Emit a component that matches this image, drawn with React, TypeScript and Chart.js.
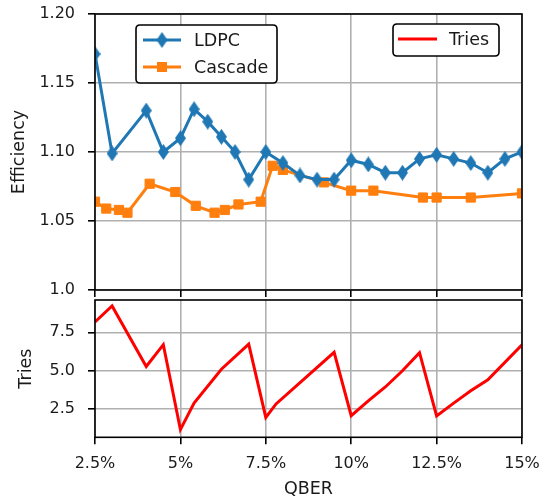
import React, { useEffect, useRef } from 'react';
import { Chart, registerables } from 'chart.js';

Chart.register(...registerables);

// ---- data ----
const qberLdpc = [2.5, 3, 4, 4.5, 5, 5.4, 5.8, 6.2, 6.6, 7, 7.5, 8, 8.5, 9, 9.5, 10, 10.5, 11, 11.5, 12, 12.5, 13, 13.5, 14, 14.5, 15];
const effLdpc = [1.171, 1.099, 1.130, 1.100, 1.110, 1.131, 1.122, 1.111, 1.100, 1.080, 1.100, 1.092, 1.083, 1.080, 1.080, 1.094, 1.091, 1.085, 1.085, 1.095, 1.098, 1.095, 1.092, 1.085, 1.095, 1.100];

const qberCascade = [2.5, 2.83, 3.2, 3.45, 4.1, 4.85, 5.45, 6.0, 6.3, 6.7, 7.35, 7.7, 8.0, 9.2, 10.0, 10.65, 12.1, 12.5, 13.5, 15];
const effCascade = [1.064, 1.059, 1.058, 1.056, 1.077, 1.071, 1.061, 1.056, 1.058, 1.062, 1.064, 1.090, 1.087, 1.078, 1.072, 1.072, 1.067, 1.067, 1.067, 1.070];

const qberTries = [2.5, 3, 4, 4.5, 5, 5.4, 6.2, 7, 7.5, 7.8, 9.5, 10, 10.5, 11, 11.5, 12, 12.5, 13, 13.5, 14, 15];
const triesCount = [8.17, 9.21, 5.28, 6.7, 1.18, 2.9, 5.1, 6.73, 1.97, 2.85, 6.2, 2.08, 3.05, 3.95, 5.0, 6.18, 2.07, 2.9, 3.7, 4.42, 6.69];

const qberTicks = [2.5, 5, 7.5, 10, 12.5, 15];
const qberTickLabels = ['2.5%', '5%', '7.5%', '10%', '12.5%', '15%'];
const effTicks = [1.0, 1.05, 1.1, 1.15, 1.2];
const effTickLabels = ['1.0', '1.05', '1.10', '1.15', '1.20'];
const triesTicks = [2.5, 5.0, 7.5];
const triesTickLabels = ['2.5', '5.0', '7.5'];

// ---- styling ----
const FONT = "'DejaVu Sans', sans-serif";
const TEXT = '#1a1a1a';
const GRID = '#b0b0b0';
const BLUE = '#1f77b4';
const ORANGE = '#ff7f0e';
const RED = '#ff0000';
const TICK_SIZE = 16;
const LABEL_SIZE = 17.5;

const LEFT_AXIS_W = 95;
const RIGHT_PAD = 24;

function thinDiamond(w: number, h: number, color: string): HTMLCanvasElement {
  const c = document.createElement('canvas');
  c.width = w;
  c.height = h;
  const g = c.getContext('2d')!;
  g.fillStyle = color;
  g.beginPath();
  g.moveTo(w / 2, 0);
  g.lineTo(w, h / 2);
  g.lineTo(w / 2, h);
  g.lineTo(0, h / 2);
  g.closePath();
  g.fill();
  return c;
}

const framePlugin = {
  id: 'frame',
  afterDatasetsDraw(chart: any) {
    const { ctx, chartArea: a } = chart;
    ctx.save();
    ctx.strokeStyle = '#000';
    ctx.lineWidth = 1.6;
    ctx.strokeRect(a.left, a.top, a.right - a.left, a.bottom - a.top);
    ctx.restore();
  },
};

function roundBox(ctx: CanvasRenderingContext2D, x: number, y: number, w: number, h: number, r: number) {
  ctx.beginPath();
  ctx.moveTo(x + r, y);
  ctx.lineTo(x + w - r, y);
  ctx.quadraticCurveTo(x + w, y, x + w, y + r);
  ctx.lineTo(x + w, y + h - r);
  ctx.quadraticCurveTo(x + w, y + h, x + w - r, y + h);
  ctx.lineTo(x + r, y + h);
  ctx.quadraticCurveTo(x, y + h, x, y + h - r);
  ctx.lineTo(x, y + r);
  ctx.quadraticCurveTo(x, y, x + r, y);
  ctx.closePath();
  ctx.fillStyle = '#fff';
  ctx.fill();
  ctx.strokeStyle = '#000';
  ctx.lineWidth = 1.6;
  ctx.stroke();
}

function makeLegendPlugin(diamond: HTMLCanvasElement) {
  return {
    id: 'boxedLegends',
    afterDraw(chart: any) {
      const ctx: CanvasRenderingContext2D = chart.ctx;
      ctx.save();
      ctx.font = `${LABEL_SIZE}px ${FONT}`;
      ctx.textBaseline = 'middle';
      ctx.textAlign = 'left';

      // LDPC / Cascade legend
      roundBox(ctx, 136, 25, 141, 58, 4);
      ctx.lineWidth = 3;
      ctx.strokeStyle = BLUE;
      ctx.beginPath();
      ctx.moveTo(143, 40);
      ctx.lineTo(181, 40);
      ctx.stroke();
      ctx.drawImage(diamond, 162 - diamond.width / 2, 40 - diamond.height / 2);
      ctx.strokeStyle = ORANGE;
      ctx.beginPath();
      ctx.moveTo(143, 67);
      ctx.lineTo(181, 67);
      ctx.stroke();
      ctx.fillStyle = ORANGE;
      ctx.fillRect(162 - 5, 67 - 5, 10, 10);
      ctx.fillStyle = TEXT;
      ctx.fillText('LDPC', 194, 41);
      ctx.fillText('Cascade', 194, 68);

      // Tries legend
      roundBox(ctx, 393, 24, 106, 32, 4);
      ctx.lineWidth = 3;
      ctx.strokeStyle = RED;
      ctx.beginPath();
      ctx.moveTo(398, 39);
      ctx.lineTo(437, 39);
      ctx.stroke();
      ctx.fillStyle = TEXT;
      ctx.fillText('Tries', 449, 40);
      ctx.restore();
    },
  };
}

function toPoints(xs: number[], ys: number[]) {
  return xs.map((x, i) => ({ x, y: ys[i] }));
}

const gridOpts = { color: GRID, lineWidth: 1.6, tickColor: '#000', tickLength: 7, tickWidth: 1.6, drawTicks: true };

// keep the plot frames exactly where the layout padding puts them
const noOverflow = (s: any) => {
  s.paddingTop = 0;
  s.paddingBottom = 0;
  s.paddingLeft = 0;
  s.paddingRight = 0;
};

export default function App() {
  const topRef = useRef<HTMLCanvasElement>(null);
  const bottomRef = useRef<HTMLCanvasElement>(null);

  useEffect(() => {
    const diamond = thinDiamond(11, 16, BLUE);

    const top = new Chart(topRef.current!, {
      type: 'line',
      data: {
        datasets: [
          {
            label: 'LDPC',
            data: toPoints(qberLdpc, effLdpc),
            borderColor: BLUE,
            backgroundColor: BLUE,
            borderWidth: 3,
            pointStyle: diamond as any,
            pointRadius: 6,
            tension: 0,
            clip: 0 as any,
          },
          {
            label: 'Cascade',
            data: toPoints(qberCascade, effCascade),
            borderColor: ORANGE,
            backgroundColor: ORANGE,
            borderWidth: 3,
            pointStyle: 'rect',
            pointRadius: 6.5,
            pointBorderWidth: 1,
            tension: 0,
            clip: 0 as any,
          },
        ],
      },
      options: {
        responsive: false,
        animation: false,
        devicePixelRatio: 1,
        layout: { autoPadding: false, padding: { top: 14, right: RIGHT_PAD, left: 0, bottom: 0 } },
        plugins: { legend: { display: false }, tooltip: { enabled: false } },
        scales: {
          x: {
            type: 'linear',
            min: 2.5,
            max: 15,
            afterBuildTicks: (s: any) => { s.ticks = qberTicks.map((v) => ({ value: v })); },
            ticks: { display: false },
            grid: gridOpts,
            border: { display: false },
            afterFit: (s: any) => { s.height = 7; noOverflow(s); },
          },
          y: {
            type: 'linear',
            min: 1.0,
            max: 1.2,
            afterBuildTicks: (s: any) => { s.ticks = effTicks.map((v) => ({ value: v })); },
            ticks: {
              callback: (_v: any, i: number) => effTickLabels[i],
              font: { family: FONT, size: TICK_SIZE },
              color: TEXT,
              padding: 13,
            },
            grid: gridOpts,
            border: { display: false },
            title: { display: true, text: 'Efficiency', font: { family: FONT, size: LABEL_SIZE }, color: TEXT, padding: { top: 9, bottom: 0 } },
            afterFit: (s: any) => { s.width = LEFT_AXIS_W; noOverflow(s); },
          },
        },
      } as any,
      plugins: [framePlugin, makeLegendPlugin(diamond)],
    });

    const bottom = new Chart(bottomRef.current!, {
      type: 'line',
      data: {
        datasets: [
          {
            label: 'Tries',
            data: toPoints(qberTries, triesCount),
            borderColor: RED,
            backgroundColor: RED,
            borderWidth: 3,
            pointRadius: 0,
            tension: 0,
            clip: 0 as any,
          },
        ],
      },
      options: {
        responsive: false,
        animation: false,
        devicePixelRatio: 1,
        layout: { autoPadding: false, padding: { top: 3, right: RIGHT_PAD, left: 0, bottom: 0 } },
        plugins: { legend: { display: false }, tooltip: { enabled: false } },
        scales: {
          x: {
            type: 'linear',
            min: 2.5,
            max: 15,
            afterBuildTicks: (s: any) => { s.ticks = qberTicks.map((v) => ({ value: v })); },
            ticks: {
              callback: (_v: any, i: number) => qberTickLabels[i],
              font: { family: FONT, size: TICK_SIZE },
              color: TEXT,
              padding: 10,
              maxRotation: 0,
            },
            grid: gridOpts,
            border: { display: false },
            title: { display: true, text: 'QBER', font: { family: FONT, size: LABEL_SIZE }, color: TEXT, padding: { top: 0, bottom: 0 } },
            afterFit: (s: any) => { s.height = 62.7; noOverflow(s); },
          },
          y: {
            type: 'linear',
            min: 0.68,
            max: 9.6,
            afterBuildTicks: (s: any) => { s.ticks = triesTicks.map((v) => ({ value: v })); },
            ticks: {
              callback: (_v: any, i: number) => triesTickLabels[i],
              font: { family: FONT, size: TICK_SIZE },
              color: TEXT,
              padding: 13,
            },
            grid: gridOpts,
            border: { display: false },
            title: { display: true, text: 'Tries', font: { family: FONT, size: LABEL_SIZE }, color: TEXT, padding: { top: 16, bottom: 0 } },
            afterFit: (s: any) => { s.width = LEFT_AXIS_W; noOverflow(s); },
          },
        },
      } as any,
      plugins: [framePlugin],
    });

    return () => {
      top.destroy();
      bottom.destroy();
    };
  }, []);

  return (
    <div style={{ position: 'absolute', left: 0, top: 0, width: 546, height: 500, background: '#fff' }}>
      <canvas ref={topRef} width={546} height={297} style={{ position: 'absolute', left: 0, top: 0 }} />
      <canvas ref={bottomRef} width={546} height={203} style={{ position: 'absolute', left: 0, top: 297 }} />
    </div>
  );
}
